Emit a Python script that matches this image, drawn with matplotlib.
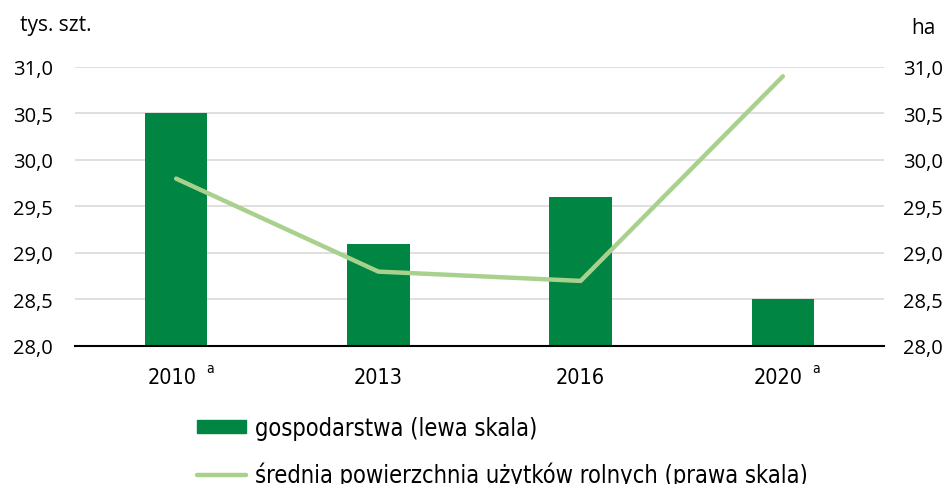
import matplotlib.pyplot as plt
import numpy as np
from matplotlib import font_manager
from matplotlib.lines import Line2D
from matplotlib.patches import Patch

years = ['2010', '2013', '2016', '2020']
notes = ['a', '', '', 'a']
farms = [30.5, 29.1, 29.6, 28.5]       # tys. szt. (lewa skala)
area = [29.8, 28.8, 28.7, 30.9]        # ha (prawa skala)
yticks = [28.0, 28.5, 29.0, 29.5, 30.0, 30.5, 31.0]

bar_color = '#008542'
line_color = '#a9d18e'
num_font = ['Open Sans', 'DejaVu Sans']

# narrow regular face for the category labels and legend, if one is installed
narrow = None
for f in font_manager.fontManager.ttflist:
    is_narrow = ('Narrow' in f.name or 'Condensed' in f.name
                 or f.stretch in ('condensed', 'semi-condensed'))
    if is_narrow and f.style == 'normal' and f.weight in (400, 'normal', 'regular', 'book'):
        narrow = f.fname
        break
if narrow:
    narrow_prop = dict(fname=narrow)
else:
    narrow_prop = dict(family=['DejaVu Sans'])


def nfont(size):
    return font_manager.FontProperties(size=size, **narrow_prop)


fig = plt.figure(figsize=(9.53, 4.85), dpi=100, facecolor='white')
ax = fig.add_axes([75 / 953, 138 / 485, 809 / 953, 279 / 485])
ax2 = ax.twinx()

x = np.arange(len(years))
ax.bar(x, farms, width=0.31, color=bar_color, zorder=2)
ax2.plot(x, area, color=line_color, lw=3.2, solid_capstyle='round', zorder=3)

for a in (ax, ax2):
    a.set_ylim(28.0, 31.0)
    a.set_yticks(yticks)
    a.set_yticklabels([f'{v:.1f}'.replace('.', ',') for v in yticks],
                      fontsize=14.5, family=num_font)
    for s in a.spines.values():
        s.set_visible(False)
    a.tick_params(axis='y', length=0)
ax.tick_params(axis='y', pad=16)
ax2.tick_params(axis='y', pad=14)
ax.set_xlim(-0.5, 3.5)
ax.yaxis.grid(True, color='#d9d9d9', lw=1.2, zorder=0)
ax.set_axisbelow(True)
ax.spines['bottom'].set_visible(True)
ax.spines['bottom'].set_color('black')
ax.spines['bottom'].set_linewidth(1.5)

ax.set_xticks(x)
ax.set_xticklabels([''] * len(years))
ax.tick_params(axis='x', length=0)
xt = ax.get_xaxis_transform()
for xi, yr, n in zip(x, years, notes):
    if n:
        ax.annotate(yr, xy=(xi, 0), xycoords=xt, xytext=(14.5, -22),
                    textcoords='offset points', ha='right', va='center',
                    fontproperties=nfont(15.5), annotation_clip=False)
        ax.annotate(n, xy=(xi, 0), xycoords=xt, xytext=(21.5, -16),
                    textcoords='offset points', ha='left', va='center',
                    fontproperties=nfont(10), annotation_clip=False)
    else:
        ax.annotate(yr, xy=(xi, 0), xycoords=xt, xytext=(0, -22),
                    textcoords='offset points', ha='center', va='center',
                    fontproperties=nfont(15.5), annotation_clip=False)

fig.text(20 / 953, 1 - 25 / 485, 'tys. szt.', fontsize=15, family=num_font, va='center')
fig.text(911 / 953, 1 - 28 / 485, 'ha', fontsize=15, family=num_font, va='center')

handles = [Patch(color=bar_color),
           Line2D([0], [0], color=line_color, lw=3.2, solid_capstyle='round')]
labels = ['gospodarstwa (lewa skala)', 'średnia powierzchnia użytków rolnych (prawa skala)']
fig.legend(handles, labels, loc='upper left', bbox_to_anchor=(176 / 953, 1 - 396 / 485),
           frameon=False, prop=nfont(17),
           handlelength=2.05, handleheight=0.45, handletextpad=0.4, labelspacing=0.9)

fig.savefig('out.png', dpi=100, facecolor='white')
